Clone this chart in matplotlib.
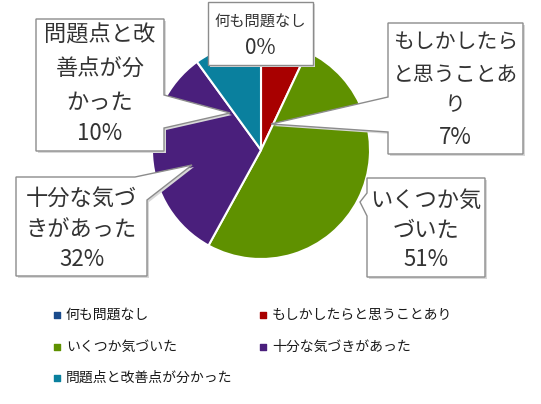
import matplotlib.pyplot as plt
from matplotlib.patches import Polygon

plt.rcParams['font.family'] = ['Noto Sans CJK JP', 'DejaVu Sans']

# data
labels = ['何も問題なし', 'もしかしたらと思うことあり', 'いくつか気づいた',
          '十分な気づきがあった', '問題点と改善点が分かった']
values = [0, 7, 51, 32, 10]
colors = ['#1a4b8c', '#a80000', '#5f9100', '#4a1f7c', '#0a809e']

# label text as broken in the callouts
label_lines = [['何も問題なし'],
               ['もしかしたら', 'と思うことあ', 'り'],
               ['いくつか気', 'づいた'],
               ['十分な気づ', 'きがあった'],
               ['問題点と改', '善点が分', 'かった']]

fig = plt.figure(figsize=(5.41, 4.04), dpi=100)
ax = fig.add_axes([0, 0, 1, 1])

# y axis is flipped below, so counterclock in data = clockwise on screen
wedges, _ = ax.pie(values, colors=colors, startangle=-90, counterclock=True,
                   center=(261, 150), radius=109,
                   wedgeprops=dict(edgecolor='white', linewidth=1.5))
ax.set_xlim(0, 541)
ax.set_ylim(404, 0)
ax.set_aspect('equal')
ax.axis('off')

def side_callout(box, side, a, b, tip):
    x0, y0, x1, y1 = box
    if side == 'left':
        return [(x0, y0), (x1, y0), (x1, y1), (x0, y1), (x0, b), tip, (x0, a)]
    if side == 'right':
        return [(x0, y0), (x1, y0), (x1, a), tip, (x1, b), (x1, y1), (x0, y1)]
    return [(x0, y0), (x1, y0), (x1, y1), (x0, y1)]

callouts = [
    dict(box=(208, 2, 313, 65), shape=side_callout((208, 2, 313, 65), None, 0, 0, None),
         ys=[22, 48], fs=[11, 15]),
    dict(box=(388, 23, 523, 154), shape=side_callout((388, 23, 523, 154), 'left', 97, 132, (271, 124)),
         ys=[43, 75, 105, 137], fs=[15, 15, 15, 16]),
    dict(box=(367, 178, 485, 277), shape=side_callout((367, 178, 485, 277), 'left', 193, 216, (360, 202)),
         ys=[200, 230, 260], fs=[16] * 3),
    dict(box=(16, 177, 147, 276),
         shape=[(16, 177), (135, 177), (192, 165), (147, 200), (147, 276), (16, 276)],
         ys=[198, 230, 259], fs=[16] * 3),
    dict(box=(36, 19, 164, 151), shape=side_callout((36, 19, 164, 151), 'right', 95, 128, (230, 113)),
         ys=[35, 69, 102, 134], fs=[16] * 4),
]

for i, c in enumerate(callouts):
    x0, y0, x1, y1 = c['box']
    sh = [(x + 2, y + 2) for x, y in c['shape']]
    ax.add_patch(Polygon(sh, closed=True, facecolor='#d8d8d8', edgecolor='none', zorder=4))
    ax.add_patch(Polygon(c['shape'], closed=True, facecolor='white',
                         edgecolor='#8c8c8c', linewidth=1.0, zorder=5))
    lines = label_lines[i] + ['%d%%' % values[i]]
    xc = (x0 + x1) / 2
    for txt, y, f in zip(lines, c['ys'], c['fs']):
        ax.text(xc, y, txt, ha='center', va='center', fontsize=f,
                color='#333333', zorder=6)

# legend
leg_pos = [(57, 315), (263, 315), (57, 347), (263, 347), (57, 378)]
for (lx, ly), lab, col in zip(leg_pos, labels, colors):
    ax.scatter([lx], [ly], marker='s', s=22, color=col, zorder=5)
    ax.text(lx + 9, ly, lab, ha='left', va='center', fontsize=10, color='#1a1a1a')

fig.savefig('out.png', dpi=100, facecolor='white')
